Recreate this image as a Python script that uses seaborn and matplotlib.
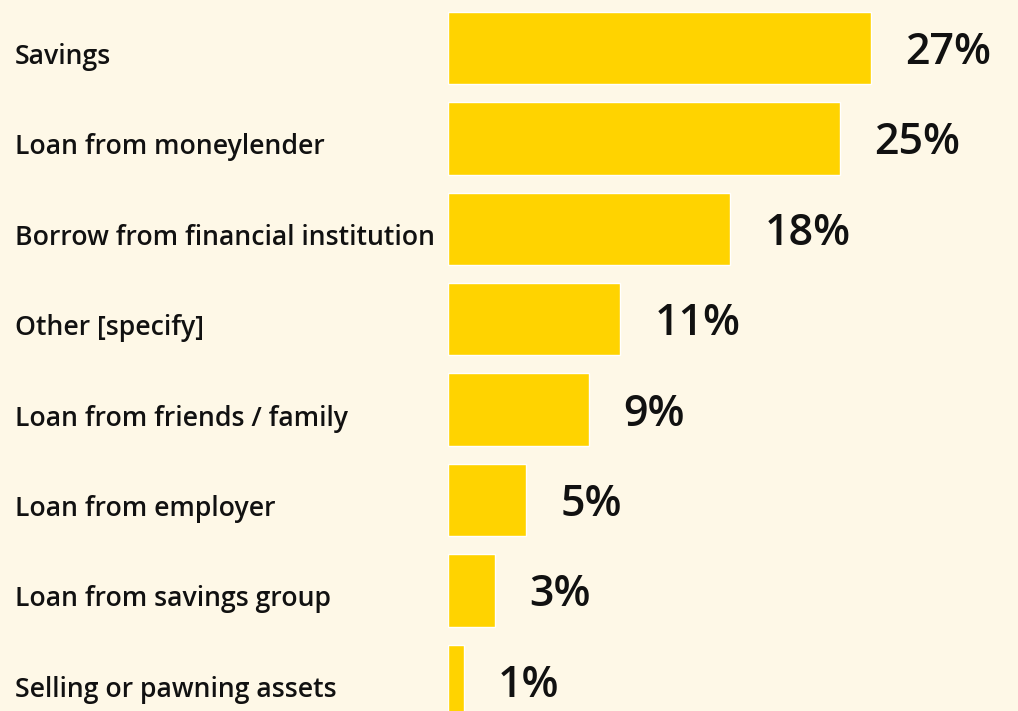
import matplotlib
matplotlib.use("Agg")
import matplotlib.pyplot as plt
import matplotlib.transforms as mtransforms
import seaborn as sns
import pandas as pd

# ==========================================
# DATA
# ==========================================

categories = [
    "Savings",
    "Loan from moneylender",
    "Borrow from financial institution",
    "Other [specify]",
    "Loan from friends / family",
    "Loan from employer",
    "Loan from savings group",
    "Selling or pawning assets",
]
shares = [27, 25, 18, 11, 9, 5, 3, 1]
value_labels = ["27%", "25%", "18%", "11%", "9%", "5%", "3%", "1%"]

df = pd.DataFrame({"source": categories, "share": shares})

# ==========================================
# STYLE
# ==========================================

bg = "#FEF8E7"
bar_color = "#FFD300"

sns.set_style("white")
plt.rcParams["font.family"] = ["Open Sans", "DejaVu Sans"]

fig = plt.figure(figsize=(10.18, 7.11), dpi=100)
fig.patch.set_facecolor(bg)

ax = fig.add_axes([448 / 1018, 0, 1 - 448 / 1018, 1])
ax.set_facecolor(bg)

sns.barplot(data=df, x="share", y="source", color=bar_color,
            width=0.8, saturation=1, ax=ax)

ax.set_xlim(0, (1018 - 448) / 15.67)
ax.set_ylim(663 / 90.4, -48 / 90.4)
ax.axis("off")

# category labels at left edge of the figure
label_tr = mtransforms.blended_transform_factory(fig.transFigure, ax.transData)
for i, name in enumerate(categories):
    ax.text(15 / 1018, i + 0.1, name, transform=label_tr,
            fontsize=19.2, fontweight="semibold", color="#111111",
            ha="left", va="center")

# value labels
for i, (v, lab) in enumerate(zip(shares, value_labels)):
    ax.text(v + 2.2, i + 0.05, lab, fontsize=31, fontweight="semibold",
            color="#111111", ha="left", va="center")

plt.savefig("out.png", dpi=100, facecolor=bg)
